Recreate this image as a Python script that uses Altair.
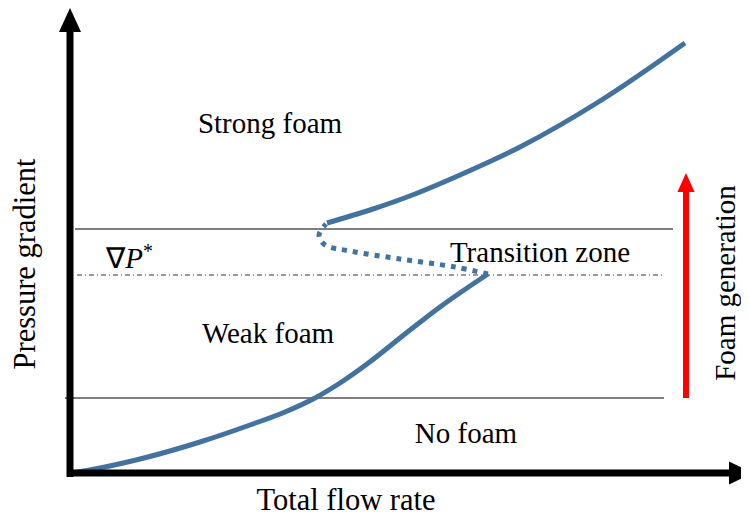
import altair as alt
import pandas as pd

# Conceptual units: origin at the axes' corner
# Lower (weak-foam) branch of the S-curve
low_x = [2, 30, 70, 130, 180, 215, 245, 270, 297, 335, 370, 418]
low_y = [0, 5, 14, 31, 48, 61, 75, 90, 109, 139, 166, 199]
# Unstable (dotted) middle branch
mid_x = [418, 385, 330, 280, 255, 249, 256]
mid_y = [199, 206, 214, 222, 228, 238, 249]
# Upper (strong-foam) branch
up_x = [257, 300, 345, 390, 450, 530, 615]
up_y = [250, 263, 279, 298, 326, 372, 430]

# Horizontal reference levels
solid_levels = [244, 75]          # upper and lower solid lines
solid_x0 = [5, -5]
solid_x1 = [603, 594]
gradp_level = 198                 # ∇P* dash-dot line
gradp_x = [7, 595]

# axis extents
yaxis_top = 441
xaxis_right = 659
foam_arrow_x = 616
foam_arrow_y = [75, 281]

labels = ["Strong foam", "Weak foam", "No foam", "Transition zone"]
label_x = [200, 198, 396, 470]
label_y = [340, 130, 30, 211]

axis_titles = ["Total flow rate", "Pressure gradient"]
axis_title_x = [276, -35]
axis_title_y = [-37, 209]
axis_title_angle = [0, 270]

side_label = ["Foam generation"]
side_x = [665]
side_y = [190]

xs = alt.Scale(domain=[-62, 671], nice=False, zero=False)
ys = alt.Scale(domain=[-43, 465], nice=False, zero=False)
X = lambda f="x": alt.X(f"{f}:Q", scale=xs, axis=None)
Y = lambda f="y": alt.Y(f"{f}:Q", scale=ys, axis=None)
FONT = "Times New Roman, Liberation Serif, serif"

def curve(xv, yv):
    return pd.DataFrame({"x": xv, "y": yv, "i": list(range(len(xv)))})

solid = alt.Chart(pd.DataFrame({"x": solid_x0, "x2": solid_x1, "y": solid_levels})).mark_rule(
    color="black", strokeWidth=1.2).encode(x=X(), x2="x2:Q", y=Y())
dashdot = alt.Chart(pd.DataFrame({"x": [gradp_x[0]], "x2": [gradp_x[1]], "y": [gradp_level]})).mark_rule(
    color="#333333", strokeWidth=1.2, strokeDash=[5, 3, 1, 3]).encode(x=X(), x2="x2:Q", y=Y())

yaxis = alt.Chart(pd.DataFrame({"x": [0], "y": [-4], "y2": [yaxis_top]})).mark_rule(
    color="black", strokeWidth=7, strokeCap="butt").encode(x=X(), y=Y(), y2="y2:Q")
xaxis = alt.Chart(pd.DataFrame({"x": [-3], "x2": [xaxis_right], "y": [0]})).mark_rule(
    color="black", strokeWidth=7, strokeCap="butt").encode(x=X(), x2="x2:Q", y=Y())
yhead = alt.Chart(pd.DataFrame({"x": [0], "y": [yaxis_top + 12]})).mark_point(
    shape="M-0.92,1L0,-1L0.92,1Z", filled=True, size=576, color="black", opacity=1, strokeWidth=0
).encode(x=X(), y=Y())
xhead = alt.Chart(pd.DataFrame({"x": [xaxis_right + 12], "y": [0]})).mark_point(
    shape="M-1,-0.96L1,0L-1,0.96Z", filled=True, size=576, color="black", opacity=1, strokeWidth=0
).encode(x=X(), y=Y())

red = alt.Chart(pd.DataFrame({"x": [foam_arrow_x], "y": [foam_arrow_y[0]], "y2": [foam_arrow_y[1]]})).mark_rule(
    color="#ff0000", strokeWidth=6, strokeCap="butt").encode(x=X(), y=Y(), y2="y2:Q")
redhead = alt.Chart(pd.DataFrame({"x": [foam_arrow_x], "y": [foam_arrow_y[1] + 9.5]})).mark_point(
    shape="M-0.9,1L0,-1L0.9,1Z", filled=True, size=361, color="#ff0000", opacity=1, strokeWidth=0
).encode(x=X(), y=Y())

BLUE = "#44729f"
low = alt.Chart(curve(low_x, low_y)).mark_line(
    interpolate="monotone", color=BLUE, strokeWidth=5).encode(x=X(), y=Y(), order="i:Q")
up = alt.Chart(curve(up_x, up_y)).mark_line(
    interpolate="monotone", color=BLUE, strokeWidth=5).encode(x=X(), y=Y(), order="i:Q")
mid = alt.Chart(curve(mid_x, mid_y)).mark_line(
    interpolate="catmull-rom", color=BLUE, strokeWidth=5, strokeDash=[5, 6], strokeCap="butt"
).encode(x=X(), y=Y(), order="i:Q")

texts = alt.Chart(pd.DataFrame({"t": labels, "x": label_x, "y": label_y})).mark_text(
    font=FONT, fontSize=29, align="center", baseline="alphabetic", color="black"
).encode(x=X(), y=Y(), text="t:N")
atitles = alt.Chart(pd.DataFrame({"t": axis_titles, "x": axis_title_x, "y": axis_title_y,
                                  "a": axis_title_angle})).mark_text(
    font=FONT, fontSize=30.5, align="center", baseline="alphabetic", color="black"
).encode(x=X(), y=Y(), text="t:N", angle=alt.Angle("a:Q", scale=None))
side = alt.Chart(pd.DataFrame({"t": side_label, "x": side_x, "y": side_y})).mark_text(
    font=FONT, fontSize=29, align="center", baseline="alphabetic", angle=270, color="black"
).encode(x=X(), y=Y(), text="t:N")

nabla = alt.Chart(pd.DataFrame({"t": ["∇"], "x": [45], "y": [205]})).mark_text(
    font=FONT, fontSize=29, align="center", baseline="alphabetic", color="black"
).encode(x=X(), y=Y(), text="t:N")
pchar = alt.Chart(pd.DataFrame({"t": ["P"], "x": [64], "y": [205]})).mark_text(
    font=FONT, fontSize=29, fontStyle="italic", align="center", baseline="alphabetic", color="black"
).encode(x=X(), y=Y(), text="t:N")
star = alt.Chart(pd.DataFrame({"t": ["*"], "x": [78], "y": [215]})).mark_text(
    font=FONT, fontSize=20, align="center", baseline="alphabetic", color="black"
).encode(x=X(), y=Y(), text="t:N")

chart = alt.layer(
    solid, dashdot, red, redhead, low, mid, up, yaxis, xaxis, yhead, xhead,
    texts, atitles, side, nabla, pchar, star
).properties(
    width=733, height=508, padding=0, autosize=alt.AutoSizeParams(type="none"), background="white"
).configure_view(stroke=None)

chart.save("out.html", embed_options={"renderer": "svg", "actions": False})
